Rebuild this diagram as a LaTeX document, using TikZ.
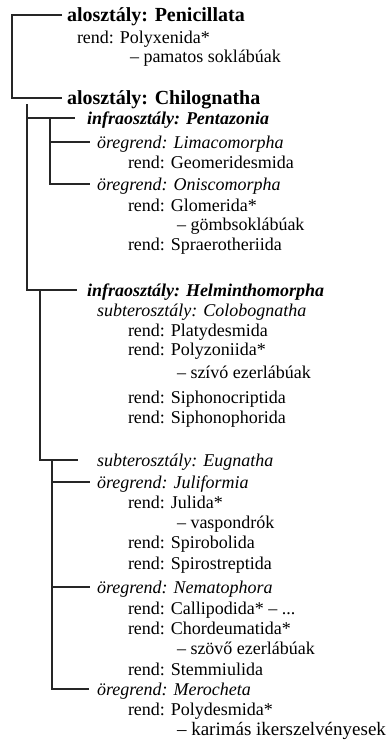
\documentclass[tikz,border=0pt]{standalone}
\usepackage{fontspec}
\setmainfont{Liberation Serif}
\begin{document}
\begin{tikzpicture}[x=1pt,y=-1pt,
  txt/.style={anchor=west,inner sep=0pt,outer sep=0pt,text height=14pt,text depth=2pt,font=\fontsize{18}{20}\selectfont},
  bf/.style={txt,font=\fontsize{20}{22}\selectfont\bfseries},
  bi/.style={txt,font=\fontsize{18}{20}\selectfont\bfseries\itshape},
  it/.style={txt,font=\fontsize{18}{20}\selectfont\itshape},
  conn/.style={line width=1.1pt,draw=black!85}]
\fill[white] (0,0) rectangle (389,745);
\useasboundingbox (0,0) rectangle (389,745);
\node[bf] (pen) at (67,15) {alosztály: Penicillata};
\node[txt] (polx) at (77,37) {rend: Polyxenida*};
\node[txt] (pam) at (130,56) {– pamatos soklábúak};
\node[bf] (chi) at (67,98) {alosztály: Chilognatha};
\node[bi] (pent) at (87,118) {infraosztály: Pentazonia};
\node[it] (lim) at (97,142) {öregrend: Limacomorpha};
\node[txt] (geo) at (128,162) {rend: Geomeridesmida};
\node[it] (oni) at (97,184) {öregrend: Oniscomorpha};
\node[txt] (glo) at (128,205) {rend: Glomerida*};
\node[txt] (gomb) at (177,224) {– gömbsoklábúak};
\node[txt] (spr) at (128,244) {rend: Spraerotheriida};
\node[bi] (hel) at (87,290) {infraosztály: Helminthomorpha};
\node[it] (col) at (97,310) {subterosztály: Colobognatha};
\node[txt] (pla) at (128,330) {rend: Platydesmida};
\node[txt] (poly) at (128,349) {rend: Polyzoniida*};
\node[txt] (sziv) at (177,372) {– szívó ezerlábúak};
\node[txt] (sipc) at (128,397) {rend: Siphonocriptida};
\node[txt] (sipp) at (128,417) {rend: Siphonophorida};
\node[it] (eug) at (97,460) {subterosztály: Eugnatha};
\node[it] (jul) at (97,482) {öregrend: Juliformia};
\node[txt] (juli) at (128,502) {rend: Julida*};
\node[txt] (vas) at (177,522) {– vaspondrók};
\node[txt] (spb) at (128,542) {rend: Spirobolida};
\node[txt] (sps) at (128,563) {rend: Spirostreptida};
\node[it] (nem) at (97,587) {öregrend: Nematophora};
\node[txt] (cal) at (128,608) {rend: Callipodida* – ...};
\node[txt] (cho) at (128,628) {rend: Chordeumatida*};
\node[txt] (szov) at (177,648) {– szövő ezerlábúak};
\node[txt] (ste) at (128,669) {rend: Stemmiulida};
\node[it] (mer) at (97,689) {öregrend: Merocheta};
\node[txt] (pold) at (128,709) {rend: Polydesmida*};
\node[txt,font=\fontsize{19}{21}\selectfont] (kar) at (177,729) {– karimás ikerszelvényesek};
% root
\coordinate (r0) at (12,0);
\draw[conn] ([xshift=-5pt]pen.west) -- (pen.west -| r0) -- (chi.west -| r0) -- ([xshift=-5pt]chi.west);
% Chilognatha
\coordinate (c0) at (27,104);
\draw[conn] (c0) -- (hel.west -| c0) -- ([xshift=-10pt]hel.west);
\draw[conn] (pent.west -| c0) -- ([xshift=-12pt]pent.west);
% Pentazonia
\coordinate (p0) at (50,0);
\draw[conn] (pent.west -| p0) -- (oni.west -| p0) -- ([xshift=-7pt]oni.west);
\draw[conn] (lim.west -| p0) -- ([xshift=-7pt]lim.west);
% Helminthomorpha
\coordinate (h0) at (40,0);
\draw[conn] (hel.west -| h0) -- (eug.west -| h0) -- ([xshift=-19pt]eug.west);
% Eugnatha
\coordinate (e0) at (52,0);
\draw[conn] (eug.west -| e0) -- (mer.west -| e0) -- ([xshift=-8pt]mer.west);
\draw[conn] (jul.west -| e0) -- ([xshift=-7pt]jul.west);
\draw[conn] (nem.west -| e0) -- ([xshift=-7pt]nem.west);
\end{tikzpicture}
\end{document}
